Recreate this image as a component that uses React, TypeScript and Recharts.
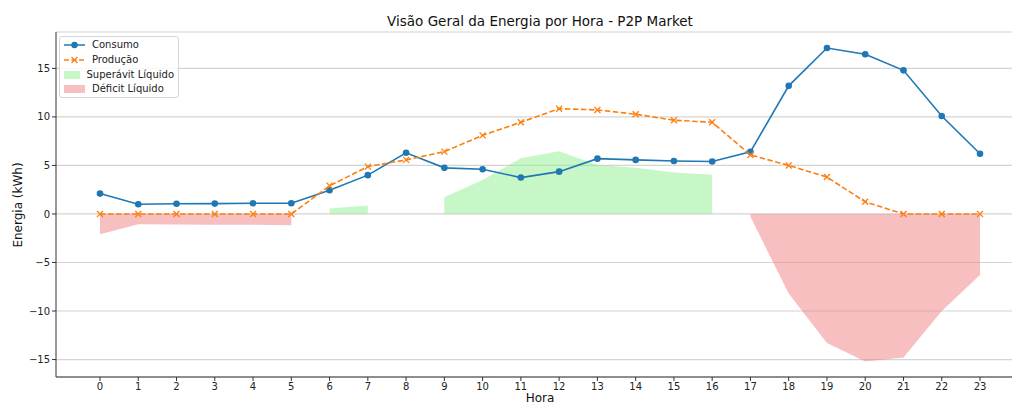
import React from 'react';
import {Area, CartesianGrid, ComposedChart, Line, XAxis, YAxis} from 'recharts';

const horas = [0, 1, 2, 3, 4, 5, 6, 7, 8, 9, 10, 11, 12, 13, 14, 15, 16, 17, 18, 19, 20, 21, 22, 23];
const consumo = [2.1, 1.0, 1.05, 1.07, 1.1, 1.1, 2.45, 4.0, 6.3, 4.75, 4.6, 3.75, 4.36, 5.7, 5.57, 5.46, 5.4, 6.4, 13.2, 17.1, 16.45, 14.8, 10.1, 6.2];
const producao = [0, 0, 0, 0, 0, 0, 2.9, 4.88, 5.57, 6.42, 8.1, 9.45, 10.85, 10.72, 10.28, 9.66, 9.45, 6.08, 5.0, 3.8, 1.25, 0, 0, 0];
const superavit = [null, null, null, null, null, null, 0.55, 0.86, null, 1.72, 3.5, 5.74, 6.46, 5.05, 4.75, 4.26, 4.05, null, null, null, null, null, null, null];
const deficit = [-2.1, -1.06, -1.08, -1.1, -1.12, -1.17, null, null, -0.7, null, null, null, null, null, null, null, null, -0.3, -8.2, -13.3, -15.2, -14.8, -10.0, -6.3];
const yTicks = [-15, -10, -5, 0, 5, 10, 15];

const data = horas.map((h, i) => ({
    hora: h,
    consumo: consumo[i],
    producao: producao[i],
    superavit: superavit[i],
    deficit: deficit[i],
}));

const AZUL = '#1f77b4';
const LARANJA = '#ff7f0e';
const FONT = '"DejaVu Sans", sans-serif';

const XDot = (props) => {
    const {cx, cy} = props;
    if (cx == null || cy == null) return null;
    const s = 3;
    return (
        <g>
            <line x1={cx - s} y1={cy - s} x2={cx + s} y2={cy + s} stroke={LARANJA} strokeWidth={1.3}/>
            <line x1={cx - s} y1={cy + s} x2={cx + s} y2={cy - s} stroke={LARANJA} strokeWidth={1.3}/>
        </g>
    );
};

// legenda desenhada à mão, no canto superior esquerdo
const LegendBox = () => {
    const row = {display: 'flex', alignItems: 'center', height: 14.7, whiteSpace: 'nowrap'};
    const label = {marginLeft: 7, fontSize: 10, color: '#222', fontFamily: FONT, lineHeight: '12px'};
    return (
        <div style={{
            position: 'absolute', left: 59, top: 36, boxSizing: 'border-box', width: 120, height: 62,
            background: 'rgba(255,255,255,0.8)', border: '1px solid #d6d6d6', borderRadius: 3,
            padding: '1px 4px',
        }}>
            <div style={row}>
                <svg width={21} height={10}>
                    <line x1={0} y1={5} x2={21} y2={5} stroke={AZUL} strokeWidth={1.5}/>
                    <circle cx={10.5} cy={5} r={3.2} fill={AZUL}/>
                </svg>
                <span style={label}>Consumo</span>
            </div>
            <div style={row}>
                <svg width={21} height={10}>
                    <line x1={0} y1={5} x2={21} y2={5} stroke={LARANJA} strokeWidth={1.5} strokeDasharray="5 2.5"/>
                    <line x1={7.5} y1={2} x2={13.5} y2={8} stroke={LARANJA} strokeWidth={1.3}/>
                    <line x1={7.5} y1={8} x2={13.5} y2={2} stroke={LARANJA} strokeWidth={1.3}/>
                </svg>
                <span style={label}>Produção</span>
            </div>
            <div style={row}>
                <svg width={21} height={10}>
                    <rect x={0} y={1} width={21} height={8} fill="#90ee90" fillOpacity={0.5}/>
                </svg>
                <span style={label}>Superávit Líquido</span>
            </div>
            <div style={row}>
                <svg width={21} height={10}>
                    <rect x={0} y={1} width={21} height={8} fill="#f08080" fillOpacity={0.5}/>
                </svg>
                <span style={label}>Déficit Líquido</span>
            </div>
        </div>
    );
};

const fmtY = (v) => (v < 0 ? '\u2212' + Math.abs(v) : String(v));

export default function App() {
    return (
        <div style={{position: 'absolute', left: 0, top: 0, width: 1012, height: 405, overflow: 'hidden', background: '#fff', fontFamily: FONT}}>
            <div style={{position: 'absolute', top: 13, left: 540, transform: 'translateX(-50%)', whiteSpace: 'nowrap', fontSize: 13.5, color: '#111'}}>
                Visão Geral da Energia por Hora - P2P Market
            </div>
            <div style={{position: 'absolute', left: 18, top: 205, transform: 'translate(-50%, -50%) rotate(-90deg)', whiteSpace: 'nowrap', fontSize: 12, color: '#111'}}>
                Energia (kWh)
            </div>
            <div style={{position: 'absolute', left: 0, top: 0}}>
                <ComposedChart width={1030} height={405} data={data} margin={{top: 32, right: 6, bottom: 0, left: 0}}>
                    <CartesianGrid vertical={false} stroke="#d4d4d4" strokeWidth={1.2}/>
                    <XAxis dataKey="hora" type="number" domain={[-1.15, 24.15]} ticks={horas} interval={0}
                           allowDataOverflow height={28} tickSize={4} tickLine={{stroke: '#333'}}
                           axisLine={{stroke: '#333', strokeWidth: 1}}
                           tick={{fontSize: 10, fill: '#222', fontFamily: FONT}}/>
                    <XAxis xAxisId="topo" orientation="top" dataKey="hora" type="number" domain={[-1.15, 24.15]}
                           height={0} tick={false} tickLine={false} axisLine={{stroke: '#333', strokeWidth: 1}}/>
                    <YAxis type="number" domain={[-16.8, 18.75]} ticks={yTicks} allowDataOverflow width={56}
                           tickSize={4} tickLine={{stroke: '#333'}} axisLine={{stroke: '#333', strokeWidth: 1}}
                           tickFormatter={fmtY} tick={{fontSize: 10, fill: '#222', fontFamily: FONT}}/>
                    <Area dataKey={(d) => (d.superavit == null ? null : [0, d.superavit])} type="linear"
                          fill="#90ee90" fillOpacity={0.5} stroke="none" isAnimationActive={false}
                          connectNulls={false}/>
                    <Area dataKey={(d) => (d.deficit == null ? null : [d.deficit, 0])} type="linear"
                          fill="#f08080" fillOpacity={0.5} stroke="none" isAnimationActive={false}
                          connectNulls={false}/>
                    <Line dataKey="consumo" type="linear" stroke={AZUL} strokeWidth={1.6}
                          dot={{r: 3.3, fill: AZUL, stroke: AZUL, strokeWidth: 0}} activeDot={false}
                          isAnimationActive={false}/>
                    <Line dataKey="producao" type="linear" stroke={LARANJA} strokeWidth={1.6}
                          strokeDasharray="5.5 2.5" dot={<XDot/>} activeDot={false} isAnimationActive={false}/>
                </ComposedChart>
            </div>
            <LegendBox/>
            <div style={{position: 'absolute', left: 540, top: 391, transform: 'translateX(-50%)', fontSize: 12, lineHeight: '14px', color: '#111'}}>
                Hora
            </div>
        </div>
    );
}
